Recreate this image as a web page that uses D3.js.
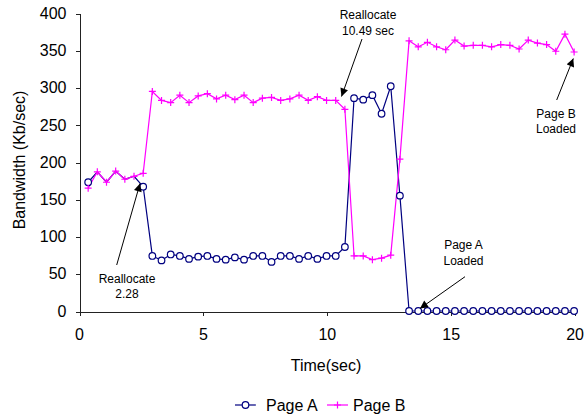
<!DOCTYPE html>
<html>
<head>
<meta charset="utf-8">
<script src="https://cdn.jsdelivr.net/npm/d3@7"></script>
<style>
  html, body { margin: 0; padding: 0; background: #fff; }
  svg { display: block; font-family: "Liberation Sans", Arial, sans-serif; }
</style>
</head>
<body>
<svg id="chart" width="587" height="417"></svg>
<script>
// ---- data ----
const times = [0.37, 0.74, 1.11, 1.48, 1.85, 2.22, 2.59, 2.96, 3.33, 3.70,
  4.07, 4.44, 4.81, 5.18, 5.55, 5.92, 6.29, 6.66, 7.03, 7.40,
  7.77, 8.14, 8.51, 8.88, 9.25, 9.62, 9.99, 10.36, 10.73, 11.10,
  11.47, 11.84, 12.21, 12.58, 12.95, 13.32, 13.69, 14.06, 14.43, 14.80,
  15.17, 15.54, 15.91, 16.28, 16.65, 17.02, 17.39, 17.76, 18.13, 18.50,
  18.87, 19.24, 19.61, 19.98];
const pageB = [165, 187, 173, 188, 177, 181, 185, 295, 283, 280,
  290, 280, 289, 292, 285, 290, 284, 290, 280, 286,
  287, 283, 285, 290, 283, 288, 283, 283, 271, 74,
  74, 69, 71, 75, 204, 363, 355, 361, 355, 351,
  364, 356, 357, 357, 355, 358, 357, 352, 364, 360,
  358, 349, 372, 348];
const pageA = [173, 187, 173, 188, 177, 181, 167, 74, 68, 76,
  74, 70, 73, 74, 70, 69, 72, 69, 74, 74,
  66, 74, 74, 70, 74, 70, 74, 74, 86, 286,
  284, 290, 265, 302, 155, 0, 0, 0, 0, 0,
  0, 0, 0, 0, 0, 0, 0, 0, 0, 0,
  0, 0, 0, 0];
const xTicks = [0, 5, 10, 15, 20];
const yTicks = [0, 50, 100, 150, 200, 250, 300, 350, 400];
const seriesNames = ["Page A", "Page B"];
const annotations = [
  { lines: ["Reallocate", "2.28"] },
  { lines: ["Reallocate", "10.49 sec"] },
  { lines: ["Page A", "Loaded"] },
  { lines: ["Page B", "Loaded"] }
];

// ---- layout ----
const svg = d3.select("#chart");
const x = d3.scaleLinear().domain([0, 20]).range([79, 574.6]);
const y = d3.scaleLinear().domain([0, 400]).range([311, 13.3]);
const colA = "#000080", colB = "#ff00ff";

// axes
const yAxis = svg.append("g").attr("transform", "translate(79.5,0)")
  .call(d3.axisLeft(y).tickValues(yTicks).tickSize(4).tickSizeOuter(0).tickPadding(9));
const xAxis = svg.append("g").attr("transform", "translate(0,311.5)")
  .call(d3.axisBottom(x).tickValues(xTicks).tickSize(4).tickSizeOuter(0).tickPadding(13));
[xAxis, yAxis].forEach(g => {
  g.selectAll("path, line").attr("stroke", "#222").attr("shape-rendering", "crispEdges");
  g.selectAll("text").attr("font-size", 16).attr("fill", "#000")
    .attr("font-family", "'Liberation Sans', Arial, sans-serif");
});
xAxis.selectAll(".tick line").attr("transform", "translate(0.5,0)");
yAxis.selectAll(".tick line").attr("transform", "translate(0,0.5)");

// axis titles
svg.append("text").attr("x", 326).attr("y", 371).attr("text-anchor", "middle")
  .attr("font-size", 16).text("Time(sec)");
svg.append("text").attr("transform", "translate(25,160) rotate(-90)")
  .attr("text-anchor", "middle").attr("font-size", 16).text("Bandwidth (Kb/sec)");

// series
const dataA = times.map((t, i) => ({ t, v: pageA[i], other: pageB[i] }));
const dataB = times.map((t, i) => ({ t, v: pageB[i] }));
const line = d3.line().x(d => x(d.t)).y(d => y(d.v));

svg.append("path").datum(dataA).attr("d", line)
  .attr("fill", "none").attr("stroke", colA).attr("stroke-width", 1.2);
svg.append("path").datum(dataB).attr("d", line)
  .attr("fill", "none").attr("stroke", colB).attr("stroke-width", 1.2);

svg.append("g").selectAll("circle")
  .data(dataA.filter(d => d.v !== d.other)).join("circle")
  .attr("cx", d => x(d.t)).attr("cy", d => y(d.v)).attr("r", 3.3)
  .attr("fill", "#fff").attr("stroke", colA).attr("stroke-width", 1.2);

const plus = (g, cx, cy, s) => g.append("path")
  .attr("d", `M${cx - s},${cy}H${cx + s}M${cx},${cy - s}V${cy + s}`)
  .attr("stroke", colB).attr("stroke-width", 1.2).attr("fill", "none");
const gB = svg.append("g");
dataB.forEach(d => plus(gB, x(d.t), y(d.v), 3.5));

// annotations
svg.append("defs").append("marker").attr("id", "arr")
  .attr("viewBox", "0 0 10 10").attr("refX", 10).attr("refY", 5)
  .attr("markerWidth", 10).attr("markerHeight", 8).attr("markerUnits", "userSpaceOnUse")
  .attr("orient", "auto")
  .append("path").attr("d", "M0,0L10,5L0,10Z").attr("fill", "#000");

const annPos = [
  { tx: 127, ty: 282.5, from: [116.7, 265], to: [140, 183.5] },
  { tx: 368, ty: 19.3, from: [362, 39], to: [341.5, 96.5] },
  { tx: 463.5, ty: 249.3, from: [465, 276.7], to: [420, 308.5] },
  { tx: 556, ty: 117.6, from: [556.7, 100], to: [573.3, 58.5] }
];
annotations.forEach((a, i) => {
  const p = annPos[i];
  const t = svg.append("text").attr("text-anchor", "middle").attr("font-size", 12).attr("fill", "#000");
  a.lines.forEach((s, j) => t.append("tspan").attr("x", p.tx).attr("y", p.ty + j * 15.5).text(s));
  svg.append("line").attr("x1", p.from[0]).attr("y1", p.from[1])
    .attr("x2", p.to[0]).attr("y2", p.to[1])
    .attr("stroke", "#000").attr("stroke-width", 1).attr("marker-end", "url(#arr)");
});

// legend
const leg = svg.append("g");
leg.append("line").attr("x1", 235).attr("x2", 256).attr("y1", 405).attr("y2", 405)
  .attr("stroke", colA).attr("stroke-width", 1.2);
leg.append("circle").attr("cx", 245.5).attr("cy", 405).attr("r", 3.3)
  .attr("fill", "#fff").attr("stroke", colA).attr("stroke-width", 1.2);
leg.append("text").attr("x", 266).attr("y", 410.5).attr("font-size", 16).text(seriesNames[0]);
leg.append("line").attr("x1", 327).attr("x2", 348).attr("y1", 405).attr("y2", 405)
  .attr("stroke", colB).attr("stroke-width", 1.2);
plus(leg, 337.5, 405, 3.5);
leg.append("text").attr("x", 353).attr("y", 410.5).attr("font-size", 16).text(seriesNames[1]);
</script>
</body>
</html>
